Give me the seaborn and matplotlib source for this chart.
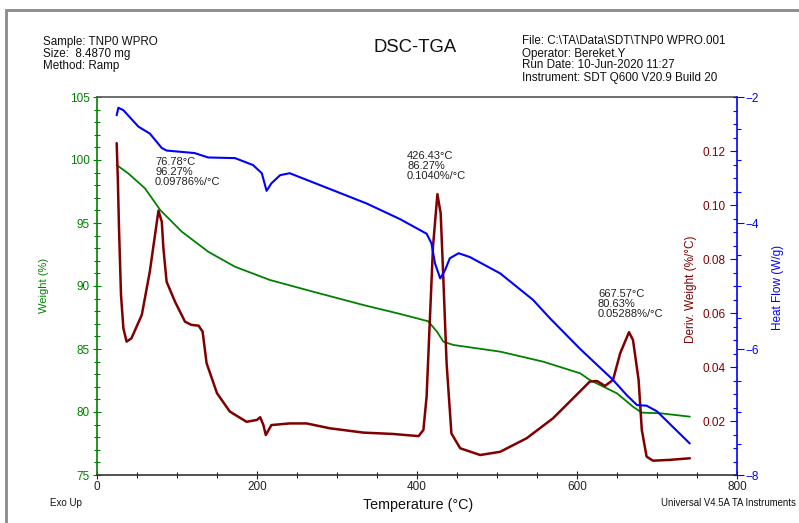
import matplotlib
matplotlib.use("Agg")
import matplotlib.pyplot as plt
import seaborn as sns
import numpy as np
from matplotlib.ticker import MultipleLocator, FixedLocator
from matplotlib.patches import Rectangle

sns.set_theme(style="white")
plt.rcParams['font.family'] = ['Liberation Sans', 'DejaVu Sans']

# ---------------- data ----------------
T_weight = [24.6, 39, 60, 79, 106, 139, 172.5, 216, 270, 333, 379, 414, 425, 433,
            445.5, 504, 558, 604, 616, 650, 670, 681, 704, 741]
weight = [99.6, 98.94, 97.75, 96.03, 94.31, 92.72, 91.53, 90.48, 89.55, 88.49, 87.78,
          87.2, 86.37, 85.58, 85.32, 84.79, 83.99, 83.07, 82.54, 81.48, 80.42, 79.95,
          79.9, 79.63]

T_heat = [24.6, 26.7, 33, 51.7, 66, 81, 87, 122, 139, 172.5, 195, 206, 212, 218, 229,
          241, 295, 337, 379, 412, 418, 422.5, 429, 435, 441, 452, 466, 504, 545, 566,
          604, 645, 662, 675, 687, 700, 741]
heat = [-2.29, -2.17, -2.21, -2.47, -2.58, -2.81, -2.85, -2.89, -2.96, -2.97, -3.08,
        -3.21, -3.49, -3.37, -3.24, -3.21, -3.48, -3.69, -3.94, -4.17, -4.32, -4.64,
        -4.88, -4.75, -4.56, -4.48, -4.54, -4.80, -5.22, -5.51, -6.0, -6.49, -6.73,
        -6.89, -6.90, -6.99, -7.50]

T_deriv = [24.6, 26, 27.5, 30, 33, 37, 43, 56, 66, 72.5, 76.8, 81, 83, 87, 97.5, 110,
           118, 127, 132, 137, 150, 166, 187, 200, 204, 208, 211, 218, 241, 262, 291,
           333, 370, 402, 408, 412, 416, 420, 425.5, 429.6, 433, 437, 443, 454, 479,
           504, 537, 570, 591, 616, 625, 635, 645, 654, 665, 670, 677, 681, 687, 695,
           716, 741]
deriv = [0.1229, 0.110, 0.0914, 0.0667, 0.0543, 0.0494, 0.0506, 0.0593, 0.0753, 0.0889,
         0.0979, 0.0938, 0.0840, 0.0716, 0.0642, 0.0568, 0.0556, 0.0553, 0.0531, 0.0414,
         0.0303, 0.0235, 0.0197, 0.0204, 0.0214, 0.0185, 0.0148, 0.0185, 0.0191, 0.0191,
         0.0173, 0.0157, 0.0152, 0.0144, 0.0167, 0.029, 0.0570, 0.0846, 0.1040, 0.0969,
         0.0722, 0.0414, 0.0154, 0.0099, 0.0074, 0.0086, 0.0136, 0.0210, 0.0272, 0.0346,
         0.0348, 0.0330, 0.0352, 0.0451, 0.0529, 0.0500, 0.0352, 0.0167, 0.0068, 0.0053,
         0.0056, 0.0062]

x_ticks = [0, 200, 400, 600, 800]
weight_ticks = [75, 80, 85, 90, 95, 100, 105]
deriv_ticks = [0.02, 0.04, 0.06, 0.08, 0.10, 0.12]
heat_ticks = [-8, -6, -4, -2]

annotations = [
    (155, 171.7, "76.78°C\n96.27%\n0.09786%/°C"),
    (407, 166, "426.43°C\n86.27%\n0.1040%/°C"),
    (598, 304, "667.57°C\n80.63%\n0.05288%/°C"),
]

GREEN = "#008000"
BLUE = "#0000FF"
DRED = "#800000"

W, H = 799, 523
fig = plt.figure(figsize=(W / 100, H / 100), dpi=100)
fig.patch.set_facecolor("white")

L, R, B, T = 97, 737, 475, 97
ax = fig.add_axes([L / W, 1 - B / H, (R - L) / W, (B - T) / H])
ax_d = ax.twinx()
ax_h = ax.twinx()

sns.lineplot(x=T_weight, y=weight, ax=ax, color=GREEN, lw=1.3, sort=False, estimator=None)
sns.lineplot(x=T_heat, y=heat, ax=ax_h, color=BLUE, lw=1.5, sort=False, estimator=None)
sns.lineplot(x=T_deriv, y=deriv, ax=ax_d, color=DRED, lw=1.8, sort=False, estimator=None)

ax.set_xlim(0, 800)
ax.set_ylim(75, 105)
ax_d.set_ylim(0.0, 0.14)
ax_h.set_ylim(-8, -2)

for a in (ax, ax_d, ax_h):
    a.set_facecolor("none")
    a.grid(False)
    for s in a.spines.values():
        s.set_visible(False)

ax.spines['bottom'].set_visible(True)
ax.spines['bottom'].set_color("#333333")
ax.spines['top'].set_visible(True)
ax.spines['top'].set_color("#555555")
ax.spines['left'].set_visible(True)
ax.spines['left'].set_color(GREEN)
ax_h.spines['right'].set_visible(True)
ax_h.spines['right'].set_color(BLUE)
for sp in ax.spines.values():
    sp.set_linewidth(1.2)
ax_h.spines['right'].set_linewidth(1.2)

TICK_FS = 8.5

# x axis
ax.xaxis.set_major_locator(FixedLocator(x_ticks))
ax.xaxis.set_minor_locator(MultipleLocator(50))
ax.tick_params(axis='x', which='both', bottom=True, top=False, direction='inout',
               colors="#222222", labelsize=TICK_FS, pad=1)
ax.tick_params(axis='x', which='major', length=6, width=0.8)
ax.tick_params(axis='x', which='minor', length=4, width=0.8)

# weight axis
ax.yaxis.set_major_locator(FixedLocator(weight_ticks))
ax.yaxis.set_minor_locator(MultipleLocator(1))
ax.tick_params(axis='y', which='both', left=True, right=False, direction='inout',
               colors=GREEN, labelsize=TICK_FS, pad=2)
ax.tick_params(axis='y', which='major', length=6, width=0.8)
ax.tick_params(axis='y', which='minor', length=4, width=0.8)
ax.set_ylabel("")
fig.text(44 / W, 1 - 285 / H, "Weight (%)", color=GREEN, fontsize=8,
         rotation=90, ha='center', va='center')

# deriv axis (labels inside, left of right spine)
ax_d.yaxis.set_major_locator(FixedLocator(deriv_ticks))
ax_d.yaxis.set_minor_locator(MultipleLocator(0.005))
ax_d.tick_params(axis='y', which='both', right=True, left=False, direction='in',
                 colors=DRED, labelsize=TICK_FS, pad=-8)
ax_d.tick_params(axis='y', which='major', length=5, width=0.8, colors=BLUE, labelcolor=DRED)
ax_d.tick_params(axis='y', which='minor', length=3, width=0.8, colors=BLUE)
ax_d.set_yticklabels([f"{v:.2f}" for v in deriv_ticks])
for lab in ax_d.get_yticklabels():
    lab.set_horizontalalignment('right')
ax_d.set_ylabel("")
fig.text(691 / W, 1 - 289 / H, "Deriv. Weight (%/°C)", color=DRED, fontsize=8.5,
         rotation=90, ha='center', va='center')

# heat flow axis
ax_h.yaxis.set_major_locator(FixedLocator(heat_ticks))
ax_h.yaxis.set_minor_locator(MultipleLocator(0.5))
ax_h.tick_params(axis='y', which='both', right=True, left=False, direction='out',
                 colors=BLUE, labelsize=TICK_FS, pad=1)
ax_h.tick_params(axis='y', which='major', length=5, width=0.8)
ax_h.tick_params(axis='y', which='minor', length=3, width=0.8)
ax_h.set_ylabel("")
fig.text(778 / W, 1 - 287 / H, "Heat Flow (W/g)", color=BLUE, fontsize=8.5,
         rotation=90, ha='center', va='center')

ax.set_xlabel("")
fig.text(418 / W, 1 - 505 / H, "Temperature (°C)", color="#111111", fontsize=10.3,
         ha='center', va='center')
fig.text(50 / W, 1 - 503 / H, "Exo Up", color="#111111", fontsize=7, ha='left', va='center')
fig.text(661 / W, 1 - 503 / H, "Universal V4.5A TA Instruments", color="#111111",
         fontsize=6.9, ha='left', va='center')

# annotations
for ex, ey, txt in annotations:
    fig.text(ex / W, 1 - ey / H, txt, fontsize=8, color="#222222", ha='left', va='center',
             linespacing=1.0)

# header
hdr_l = ["Sample: TNP0 WPRO", "Size:  8.4870 mg", "Method: Ramp"]
hdr_r = ["File: C:\\TA\\Data\\SDT\\TNP0 WPRO.001", "Operator: Bereket.Y",
         "Run Date: 10-Jun-2020 11:27", "Instrument: SDT Q600 V20.9 Build 20"]
for i, t in enumerate(hdr_l):
    fig.text(43 / W, 1 - (41.5 + 12 * i) / H, t, fontsize=8.4, color="#111111",
             ha='left', va='center')
for i, t in enumerate(hdr_r):
    fig.text(522 / W, 1 - (41.5 + 12 * i) / H, t, fontsize=8.4, color="#111111",
             ha='left', va='center')
fig.text(415 / W, 1 - 47 / H, "DSC-TGA", fontsize=13.3, color="#111111", ha='center',
         va='center')

# outer frame
fig.add_artist(Rectangle((6 / W, -0.05), 1.2, 1 - 9.5 / H + 0.05, transform=fig.transFigure,
                         fill=False, edgecolor="#8a8a8a", lw=2))

fig.savefig("out.png", dpi=100, facecolor="white")
